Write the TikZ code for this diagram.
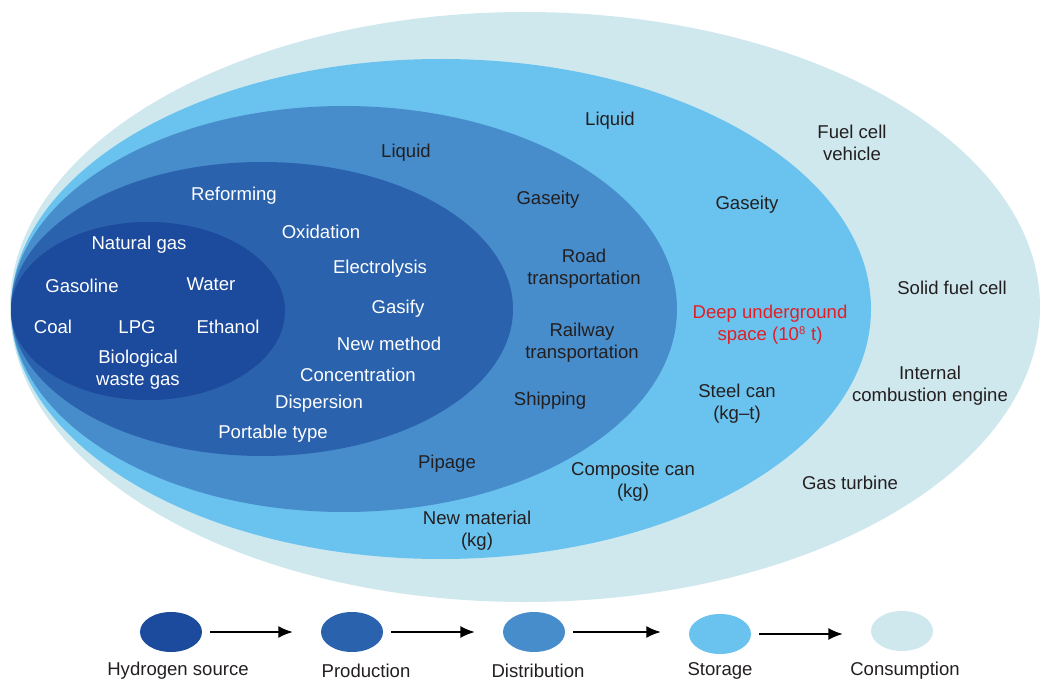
\documentclass[tikz,border=0pt]{standalone}
\usepackage{fontspec}
\setmainfont{Liberation Sans}
\usepackage{tikz}
\usetikzlibrary{shapes.geometric,arrows.meta,positioning}
\usepackage{xcolor}
\definecolor{SourceBlue}{RGB}{28, 74, 156}
\definecolor{ProdBlue}{RGB}{42, 98, 174}
\definecolor{DistBlue}{RGB}{71, 141, 203}
\definecolor{StoreBlue}{RGB}{106, 195, 238}
\definecolor{ConsumeBg}{RGB}{207, 232, 238}
\definecolor{AlertRed}{RGB}{227, 30, 36}
\definecolor{TextDark}{RGB}{35, 31, 32}

\begin{document}
\begin{tikzpicture}[x=0.025cm, y=-0.025cm,
    every node/.style={align=center, font=\fontsize{13.2}{15.6}\selectfont},
    inner/.style={text=white},
    outer/.style={text=TextDark},
    legend/.style={ellipse, minimum width=1.55cm, minimum height=1cm, inner sep=0pt},
    flow/.style={-{Latex[length=3.6mm, width=3mm]}, line width=1pt, draw=black}]
  \useasboundingbox (0,0) rectangle (1040,682);
  % Nested stages
  \fill[ConsumeBg] (525,307) ellipse [x radius=515, y radius=295];
  \fill[StoreBlue] (441,309) ellipse [x radius=430, y radius=250];
  \fill[DistBlue] (344,309) ellipse [x radius=333, y radius=203];
  \fill[ProdBlue] (262,309) ellipse [x radius=251, y radius=147];
  \fill[SourceBlue] (148,311) ellipse [x radius=137, y radius=89];
  % Hydrogen source
  \node[inner] (natgas) at (139,245) {Natural gas};
  \node[inner] (gasoline) at (82,286) {Gasoline};
  \node[inner] (water) at (211,284) {Water};
  \node[inner] (coal) at (53,327) {Coal};
  \node[inner] (lpg) at (137,327) {LPG};
  \node[inner] (ethanol) at (228,327) {Ethanol};
  \node[inner] (bio) at (138,370) {Biological\\waste gas};
  % Production
  \node[inner] (reform) at (234,196) {Reforming};
  \node[inner] (oxid) at (321,232) {Oxidation};
  \node[inner] (electro) at (380,269) {Electrolysis};
  \node[inner] (gasify) at (398,309) {Gasify};
  \node[inner] (newmeth) at (389,344) {New method};
  \node[inner] (conc) at (358,375) {Concentration};
  \node[inner] (disp) at (319,404) {Dispersion};
  \node[inner] (portable) at (273,434) {Portable type};
  % Distribution
  \node[outer] (distliq) at (406,153) {Liquid};
  \node[outer] (distgas) at (548,200) {Gaseity};
  \node[outer] (road) at (584,269) {Road\\transportation};
  \node[outer] (rail) at (582,343) {Railway\\transportation};
  \node[outer] (ship) at (550,401) {Shipping};
  \node[outer] (pipe) at (447,464) {Pipage};
  % Storage
  \node[outer] (storliq) at (610,121) {Liquid};
  \node[outer] (storgas) at (747,205) {Gaseity};
  \node[text=AlertRed] (deep) at (770,325) {Deep underground\\space (10\textsuperscript{\footnotesize 8} t)};
  \node[outer] (steel) at (737,404) {Steel can\\(kg--t)};
  \node[outer] (composite) at (633,482) {Composite can\\(kg)};
  \node[outer] (newmat) at (477,531) {New material\\(kg)};
  % Consumption
  \node[outer] (fcv) at (852,143) {Fuel cell\\vehicle};
  \node[outer] (sofc) at (952,288) {Solid fuel cell};
  \node[outer] (ice) at (930,386) {Internal\\combustion engine};
  \node[outer] (turbine) at (850,483) {Gas turbine};
  % Legend
  \node[legend, fill=SourceBlue] (lsrc) at (171,632) {};
  \node[legend, fill=ProdBlue] (lprod) at (352,632) {};
  \node[legend, fill=DistBlue] (ldist) at (534,632) {};
  \node[legend, fill=StoreBlue] (lstor) at (720,634) {};
  \node[legend, fill=ConsumeBg] (lcons) at (902,631) {};
  \node[outer] (tsrc) at (178,671) {Hydrogen source};
  \node[outer] (tprod) at (366,671) {Production};
  \node[outer] (tdist) at (538,671) {Distribution};
  \node[outer] (tstor) at (720,671) {Storage};
  \node[outer] (tcons) at (905,671) {Consumption};
  \draw[flow] ([xshift=0.2cm]lsrc.east) -- ([xshift=-0.7cm]lprod.west);
  \draw[flow] ([xshift=0.2cm]lprod.east) -- ([xshift=-0.7cm]ldist.west);
  \draw[flow] ([xshift=0.2cm]ldist.east) -- ([xshift=-0.7cm]ldist.east -| lstor.west);
  \draw[flow] ([xshift=0.2cm]lstor.east) -- ([xshift=-0.7cm]lstor.east -| lcons.west);
\end{tikzpicture}
\end{document}
